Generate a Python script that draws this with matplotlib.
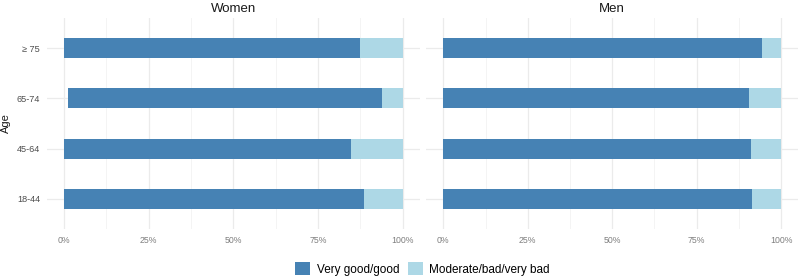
import matplotlib
matplotlib.use("Agg")
import matplotlib.pyplot as plt
import numpy as np
from matplotlib.patches import Patch

plt.rcParams['font.family'] = ['Liberation Sans', 'DejaVu Sans']

ages = ['18-44', '45-64', '65-74', '\u2265 75']
# percent shares, bottom to top
women_missing = [0, 0, 1.1, 0]
women_good = [88.7, 84.7, 92.7, 87.4]
men_missing = [0, 0, 0, 0]
men_good = [91.4, 91.1, 90.5, 94.3]
panels = ['Women', 'Men']
legend_labels = ['Very good/good', 'Moderate/bad/very bad']
dark = '#4682B4'
light = '#ADD8E6'

W, H = 800, 279
fig = plt.figure(figsize=(W / 100, H / 100), dpi=100)


def px_axes(x0, y0, x1, y1):
    return fig.add_axes([x0 / W, 1 - y1 / H, (x1 - x0) / W, (y1 - y0) / H])


ax_w = px_axes(47, 18, 419.6, 229)
ax_m = px_axes(426.4, 18, 798, 229)

data = [(women_missing, women_good), (men_missing, men_good)]
y = np.arange(1, len(ages) + 1)
for ax, title, (miss, good) in zip([ax_w, ax_m], panels, data):
    miss = np.array(miss)
    good = np.array(good)
    rest = 100 - miss - good
    ax.barh(y, good, left=miss, height=0.4, color=dark, zorder=2)
    ax.barh(y, rest, left=miss + good, height=0.4, color=light, zorder=2)
    ax.set_xlim(-5, 105)
    ax.set_ylim(0.4, len(ages) + 0.6)
    ax.set_xticks([0, 25, 50, 75, 100])
    ax.set_xticks([12.5, 37.5, 62.5, 87.5], minor=True)
    ax.set_xticklabels(['0%', '25%', '50%', '75%', '100%'])
    ax.set_yticks(y)
    ax.grid(True, which='major', color='#EBEBEB', linewidth=0.9, zorder=0)
    ax.grid(True, which='minor', axis='x', color='#F2F2F2', linewidth=0.6, zorder=0)
    for s in ax.spines.values():
        s.set_visible(False)
    ax.tick_params(axis='both', which='both', length=0)
    ax.tick_params(axis='x', labelsize=6.3, labelcolor='#7F7F7F', pad=5)
    ax.set_title(title, fontsize=9.5, color='#1A1A1A', pad=4)

ax_w.set_yticklabels(ages, fontsize=6.6, color='#4D4D4D')
ax_w.tick_params(axis='y', pad=5)
ax_m.set_yticklabels([])
ax_w.set_ylabel('Age', fontsize=8, color='#1A1A1A')
ax_w.yaxis.set_label_coords(-0.097, 0.5)

handles = [Patch(facecolor=dark), Patch(facecolor=light)]
fig.legend(handles, legend_labels, loc='center', bbox_to_anchor=(422.5 / W, 1 - 269 / H),
           ncol=2, frameon=False, fontsize=8.5, handlelength=1.3, handleheight=1.3,
           handletextpad=0.55, columnspacing=0.7)

fig.savefig('out.png', dpi=100)
